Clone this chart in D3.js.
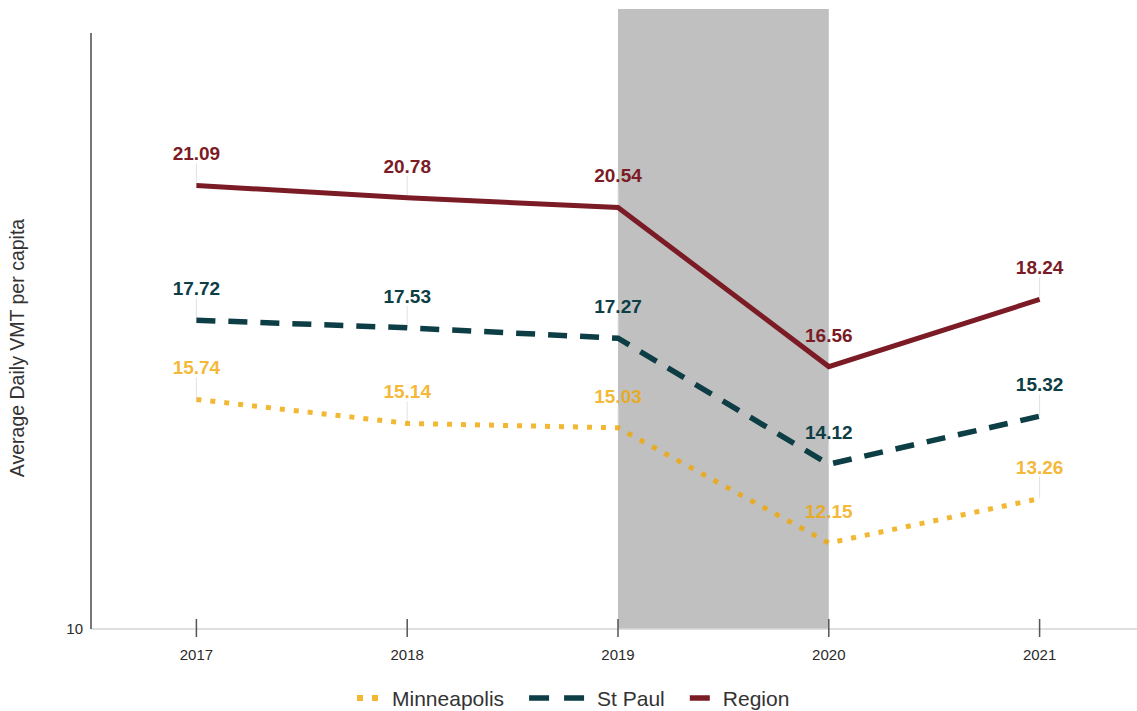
<!DOCTYPE html>
<html>
<head>
<meta charset="utf-8">
<script src="https://cdn.jsdelivr.net/npm/d3@7"></script>
<style>
  html, body { margin: 0; padding: 0; background: #fff; }
  svg { display: block; font-family: "Liberation Sans", Arial, Helvetica, sans-serif; }
</style>
</head>
<body>
<svg id="chart" width="1137" height="711"></svg>
<script>
// ---- data ----
const years = ["2017", "2018", "2019", "2020", "2021"];
const minneapolis = [15.74, 15.14, 15.03, 12.15, 13.26];
const stPaul = [17.72, 17.53, 17.27, 14.12, 15.32];
const region = [21.09, 20.78, 20.54, 16.56, 18.24];
const yTicks = [10];
const bandYears = ["2019", "2020"];
const yTitle = "Average Daily VMT per capita";

const series = [
  { name: "Minneapolis", values: minneapolis, color: "#f0a600", opacity: 0.8, width: 5, dash: "5,9", legendDash: "6,9", legendLen: 22 },
  { name: "St Paul", values: stPaul, color: "#0d3d45", opacity: 1, width: 5.5, dash: "19,13", legendDash: "20,15", legendLen: 55 },
  { name: "Region", values: region, color: "#7b1b25", opacity: 1, width: 5, dash: null, legendDash: null, legendLen: 20 }
];

const svg = d3.select("#chart");
const x = d3.scalePoint().domain(years).range([91, 1145]).padding(0.5);
const y = d3.scaleLinear().domain([10, 25]).range([629, 29]);

// highlighted band
svg.append("rect")
  .attr("x", x(bandYears[0]))
  .attr("width", x(bandYears[1]) - x(bandYears[0]))
  .attr("y", 9)
  .attr("height", y(10) - 9)
  .attr("fill", "#c0c0c0");

// x axis baseline
svg.append("line")
  .attr("x1", 91).attr("x2", 1137)
  .attr("y1", y(10)).attr("y2", y(10))
  .attr("stroke", "#d4d4d4").attr("stroke-width", 1.5);

// y axis line
svg.append("line")
  .attr("x1", 91).attr("x2", 91)
  .attr("y1", y(24.9)).attr("y2", y(10))
  .attr("stroke", "#555").attr("stroke-width", 1.6);

// x ticks
const xt = svg.append("g").selectAll("g").data(years).join("g")
  .attr("transform", d => `translate(${x(d)},0)`);
xt.append("line").attr("y1", y(10) - 10).attr("y2", y(10) + 8)
  .attr("stroke", "#555").attr("stroke-width", 1.5);
xt.append("text").attr("y", y(10) + 31).attr("text-anchor", "middle")
  .attr("font-size", 15).attr("fill", "#2b2b2b").text(d => d);

// y tick labels
svg.append("g").selectAll("text").data(yTicks).join("text")
  .attr("x", 83).attr("y", d => y(d) + 5).attr("text-anchor", "end")
  .attr("font-size", 15).attr("fill", "#2b2b2b").text(d => d);

// y title
svg.append("text")
  .attr("transform", `translate(24,${(y(10) + y(24.9)) / 2 + 17}) rotate(-90)`)
  .attr("text-anchor", "middle")
  .attr("font-size", 19.5).attr("fill", "#333").text(yTitle);

// leader lines
series.forEach(s => {
  svg.append("g").selectAll("line").data(s.values).join("line")
    .attr("x1", (d, i) => x(years[i])).attr("x2", (d, i) => x(years[i]))
    .attr("y1", d => y(d) - 22).attr("y2", d => y(d))
    .attr("stroke", "#e2e2e2").attr("stroke-width", 1);
});

// lines
const line = d3.line().x((d, i) => x(years[i])).y(d => y(d));
series.forEach(s => {
  svg.append("path")
    .datum(s.values)
    .attr("d", line)
    .attr("fill", "none")
    .attr("stroke", s.color)
    .attr("stroke-opacity", s.opacity)
    .attr("stroke-width", s.width)
    .attr("stroke-dasharray", s.dash)
    .attr("stroke-linejoin", "miter");
});

// value labels
series.forEach(s => {
  svg.append("g").selectAll("text").data(s.values).join("text")
    .attr("x", (d, i) => x(years[i]))
    .attr("y", d => y(d) - 25)
    .attr("text-anchor", "middle")
    .attr("font-size", 19).attr("font-weight", "bold")
    .attr("fill", s.color).attr("fill-opacity", s.opacity)
    .text(d => d.toFixed(2));
});

// legend
const lg = svg.append("g");
let cx = 357;
const ly = 698;
series.forEach(s => {
  lg.append("line")
    .attr("x1", cx).attr("x2", cx + s.legendLen)
    .attr("y1", ly).attr("y2", ly)
    .attr("stroke", s.color).attr("stroke-opacity", s.opacity)
    .attr("stroke-width", s.name === "Minneapolis" ? 6 : 5.5)
    .attr("stroke-dasharray", s.legendDash);
  cx += s.legendLen + 13;
  const t = lg.append("text").attr("x", cx).attr("y", ly + 7.5)
    .attr("font-size", 21).attr("fill", "#333").text(s.name);
  cx += t.node().getComputedTextLength() + 25;
});
</script>
</body>
</html>
